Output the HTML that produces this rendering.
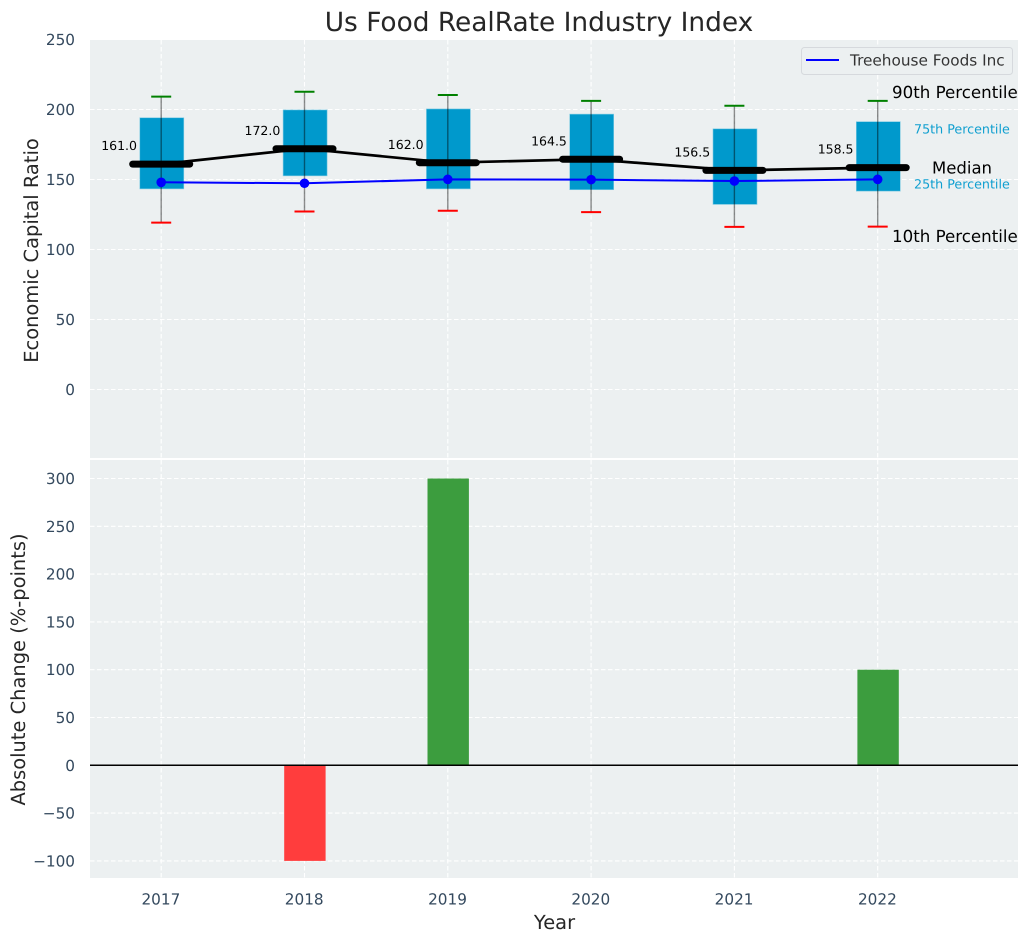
<!DOCTYPE html>
<html>
<head>
<meta charset="utf-8">
<title>Us Food RealRate Industry Index</title>
<style>
html,body{margin:0;padding:0;background:#fff;width:1029px;height:942px;overflow:hidden}
svg{display:block;font-family:"DejaVu Sans","Liberation Sans",sans-serif;text-rendering:geometricPrecision}
</style>
</head>
<body>
<svg id="chart" xmlns="http://www.w3.org/2000/svg" width="1029" height="942" viewBox="0 0 1029 942">
  <rect x="90" y="40" width="928" height="418" fill="#ecf0f1"/>
  <rect x="90" y="460" width="928" height="418" fill="#ecf0f1"/>
  <g id="grid"></g>
  <g id="bars"></g>
  <g id="boxes"></g>
  <g id="lines"></g>
  <g id="labels"></g>
  <text x="539" y="31" font-size="26.4" fill="#262626" text-anchor="middle">Us Food RealRate Industry Index</text>
  <text transform="translate(38,250.5) rotate(-90)" font-size="19.44" fill="#262626" text-anchor="middle">Economic Capital Ratio</text>
  <text transform="translate(25,669.5) rotate(-90)" font-size="19.44" fill="#262626" text-anchor="middle">Absolute Change (%-points)</text>
  <text x="554.5" y="929" font-size="19.44" fill="#262626" text-anchor="middle">Year</text>
  <g>
    <rect x="801.5" y="47.5" width="211" height="27" rx="3" fill="#ecf0f1" stroke="#d6d9dd" stroke-width="1"/>
    <line x1="806" y1="60" x2="839" y2="60" stroke="#0000ff" stroke-width="2"/>
    <text x="850" y="65.5" font-size="15.28" fill="#333">Treehouse Foods Inc</text>
  </g>
  <g>
    <text x="892" y="98" font-size="16.67" fill="#000">90th Percentile</text>
    <text x="914" y="133.5" font-size="12.7" fill="#0f9fd0">75th Percentile</text>
    <text x="932" y="173.5" font-size="16.5" fill="#000">Median</text>
    <text x="914" y="188.5" font-size="12.7" fill="#0f9fd0">25th Percentile</text>
    <text x="892" y="242" font-size="16.67" fill="#000">10th Percentile</text>
  </g>
</svg>
<script>
const years = [2017, 2018, 2019, 2020, 2021, 2022];
const p90 = [209.2, 212.7, 210.4, 206.2, 202.7, 206.2];
const p75 = [194.1, 199.7, 200.4, 196.7, 186.2, 191.3];
const median = [161.0, 172.0, 162.0, 164.5, 156.5, 158.5];
const p25 = [143.3, 152.6, 143.3, 142.7, 132.2, 141.7];
const p10 = [119.2, 127.1, 127.7, 126.7, 116.2, 116.3];
const company = [148, 147.3, 150.1, 149.9, 148.9, 150.1];
const change = [0, -100, 300, 0, 0, 100];
const topTicks = [0, 50, 100, 150, 200, 250];
const bottomTicks = [-100, -50, 0, 50, 100, 150, 200, 250, 300];

const xScale = function (year) { return 161.2 + (year - 2017) * 143.3; };
const yTop = function (v) { return 389.5 - v * 1.4; };
const yBottom = function (v) { return 765.3 - v * 0.956; };
const NS = 'http://www.w3.org/2000/svg';
function make(tag, attrs, parent, text) {
  const node = document.createElementNS(NS, tag);
  for (const key in attrs) { node.setAttribute(key, attrs[key]); }
  if (text !== undefined) { node.textContent = text; }
  parent.appendChild(node);
  return node;
}
const gridG = document.getElementById('grid');
const barsG = document.getElementById('bars');
const boxesG = document.getElementById('boxes');
const linesG = document.getElementById('lines');
const labelsG = document.getElementById('labels');
const tickColor = '#34495e';
const gridStyle = { stroke: '#ffffff', 'stroke-width': 1.1, 'stroke-dasharray': '4.5 2.5', fill: 'none' };

years.forEach(function (year) {
  const x = xScale(year);
  const a = make('line', Object.assign({ x1: x, x2: x, y1: 40, y2: 458 }, gridStyle), gridG);
  
  
  const b = make('line', Object.assign({ x1: x, x2: x, y1: 460, y2: 878 }, gridStyle), gridG);
  
  
  const t = make('text', { x: x - 0.3, y: 904.5, 'font-size': 15.28, fill: tickColor, 'text-anchor': 'middle' }, labelsG, String(year));
  
  
});

topTicks.forEach(function (v) {
  const y = yTop(v);
  const l = make('line', Object.assign({ x1: 90, x2: 1018, y1: y, y2: y }, gridStyle), gridG);
  
  
  const t = make('text', { x: 75, y: y + 5.5, 'font-size': 15.28, fill: tickColor, 'text-anchor': 'end' }, labelsG, String(v));
  
  
});

bottomTicks.forEach(function (v) {
  const y = yBottom(v);
  const l = make('line', Object.assign({ x1: 90, x2: 1018, y1: y, y2: y }, gridStyle), gridG);
  
  
  const t = make('text', { x: 75, y: y + 5.5, 'font-size': 15.28, fill: tickColor, 'text-anchor': 'end' }, labelsG, String(v).replace('-', '\u2212'));
  
  
});

change.forEach(function (v, i) {
  if (v === 0) { return; }
  const x = xScale(years[i]) + 0.4;
  const y0 = yBottom(0);
  const y1 = yBottom(v);
  const r = make('rect', {
    x: x - 20.7, y: Math.min(y0, y1), width: 41.4, height: Math.abs(y1 - y0),
    fill: v > 0 ? '#3c9d3e' : '#ff3d3d'
  }, barsG);
  
  
});
const zero = make('line', { x1: 90, x2: 1018, y1: yBottom(0), y2: yBottom(0), stroke: '#000', 'stroke-width': 1.5 }, barsG);



years.forEach(function (year, i) {
  const x = xScale(year);
  const box = make('rect', {
    x: x - 21.4, y: yTop(p75[i]), width: 44, height: yTop(p25[i]) - yTop(p75[i]),
    fill: '#0099cc', stroke: '#7fcbe3', 'stroke-width': 0.6
  }, boxesG);
  
  
  const whisker = make('line', {
    x1: x, x2: x, y1: yTop(p90[i]), y2: yTop(p10[i]), stroke: '#000', 'stroke-opacity': 0.45, 'stroke-width': 1.4
  }, boxesG);
  
  
  const capHi = make('line', {
    x1: x - 10, x2: x + 10, y1: yTop(p90[i]), y2: yTop(p90[i]), stroke: '#008000', 'stroke-width': 2
  }, boxesG);
  
  
  const capLo = make('line', {
    x1: x - 10, x2: x + 10, y1: yTop(p10[i]), y2: yTop(p10[i]), stroke: '#ff0000', 'stroke-width': 2
  }, boxesG);
  
  
});

const medianPts = years.map(function (year, i) { return xScale(year) + ',' + yTop(median[i]); }).join(' ');
const medLine = make('polyline', { points: medianPts, fill: 'none', stroke: '#000', 'stroke-width': 2.7 }, linesG);



years.forEach(function (year, i) {
  const x = xScale(year);
  const y = yTop(median[i]);
  const bar = make('line', {
    x1: x - 28.5, x2: x + 28.5, y1: y, y2: y, stroke: '#000', 'stroke-width': 7, 'stroke-linecap': 'round'
  }, linesG);
  
  
  const t = make('text', {
    x: x - 24.2, y: y - 13.9, 'font-size': 12.5, fill: '#000', 'text-anchor': 'end'
  }, labelsG, median[i].toFixed(1));
  
  
});

const companyPts = years.map(function (year, i) { return xScale(year) + ',' + yTop(company[i]); }).join(' ');
const coLine = make('polyline', { points: companyPts, fill: 'none', stroke: '#0000ff', 'stroke-width': 2 }, linesG);


years.forEach(function (year, i) {
  const dot = make('circle', { cx: xScale(year), cy: yTop(company[i]), r: 4.8, fill: '#0000ff' }, linesG);
  
  
});
</script>
</body>
</html>
